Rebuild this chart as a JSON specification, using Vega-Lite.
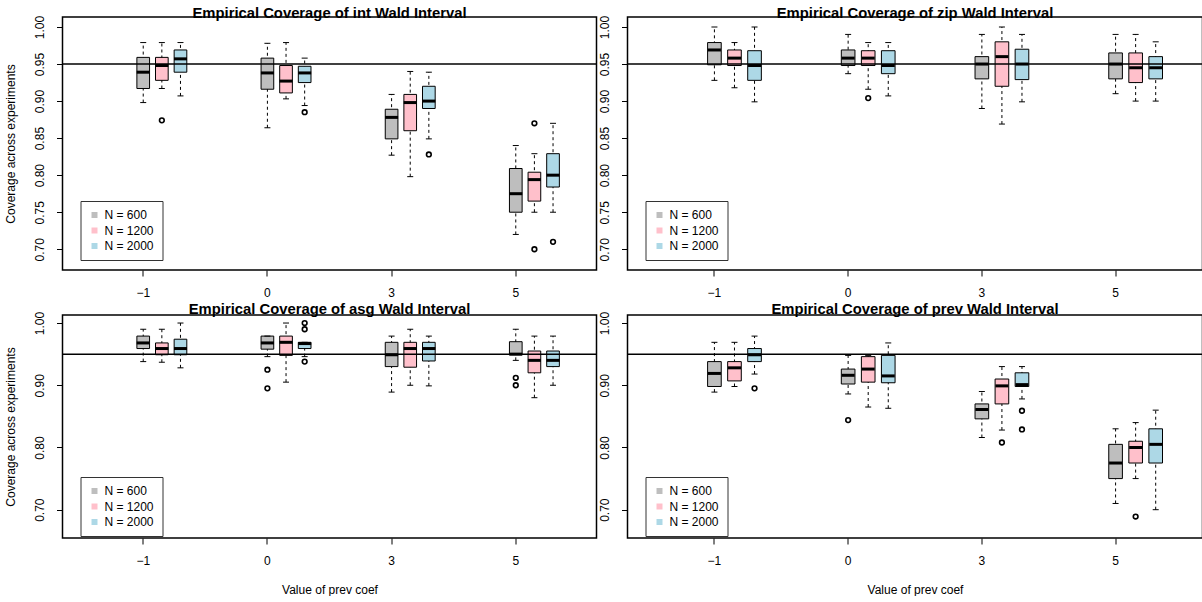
{
  "$schema": "https://vega.github.io/schema/vega-lite/v6.json",
  "padding": {"left": 3.5, "top": 4, "right": 0, "bottom": 0},
  "background": "white",
  "datasets": {
    "stats": [
      {"panel": "int", "coef": -1, "N": "600", "lo": 0.898, "q1": 0.917, "med": 0.939, "q3": 0.959, "hi": 0.979},
      {"panel": "int", "coef": -1, "N": "1200", "lo": 0.917, "q1": 0.928, "med": 0.948, "q3": 0.959, "hi": 0.979},
      {"panel": "int", "coef": -1, "N": "2000", "lo": 0.907, "q1": 0.939, "med": 0.957, "q3": 0.969, "hi": 0.979},
      {"panel": "int", "coef": 0, "N": "600", "lo": 0.864, "q1": 0.916, "med": 0.938, "q3": 0.958, "hi": 0.978},
      {"panel": "int", "coef": 0, "N": "1200", "lo": 0.903, "q1": 0.911, "med": 0.927, "q3": 0.948, "hi": 0.979},
      {"panel": "int", "coef": 0, "N": "2000", "lo": 0.894, "q1": 0.925, "med": 0.938, "q3": 0.947, "hi": 0.958},
      {"panel": "int", "coef": 3, "N": "600", "lo": 0.827, "q1": 0.849, "med": 0.878, "q3": 0.889, "hi": 0.909},
      {"panel": "int", "coef": 3, "N": "1200", "lo": 0.798, "q1": 0.86, "med": 0.898, "q3": 0.909, "hi": 0.94},
      {"panel": "int", "coef": 3, "N": "2000", "lo": 0.849, "q1": 0.89, "med": 0.9, "q3": 0.92, "hi": 0.939},
      {"panel": "int", "coef": 5, "N": "600", "lo": 0.72, "q1": 0.75, "med": 0.775, "q3": 0.809, "hi": 0.84},
      {"panel": "int", "coef": 5, "N": "1200", "lo": 0.75, "q1": 0.765, "med": 0.794, "q3": 0.804, "hi": 0.829},
      {"panel": "int", "coef": 5, "N": "2000", "lo": 0.75, "q1": 0.784, "med": 0.8, "q3": 0.829, "hi": 0.87},

      {"panel": "zip", "coef": -1, "N": "600", "lo": 0.928, "q1": 0.949, "med": 0.969, "q3": 0.979, "hi": 1.0},
      {"panel": "zip", "coef": -1, "N": "1200", "lo": 0.918, "q1": 0.948, "med": 0.958, "q3": 0.969, "hi": 0.979},
      {"panel": "zip", "coef": -1, "N": "2000", "lo": 0.899, "q1": 0.928, "med": 0.948, "q3": 0.968, "hi": 1.0},
      {"panel": "zip", "coef": 0, "N": "600", "lo": 0.937, "q1": 0.948, "med": 0.958, "q3": 0.969, "hi": 0.99},
      {"panel": "zip", "coef": 0, "N": "1200", "lo": 0.916, "q1": 0.948, "med": 0.958, "q3": 0.968, "hi": 0.979},
      {"panel": "zip", "coef": 0, "N": "2000", "lo": 0.907, "q1": 0.937, "med": 0.948, "q3": 0.968, "hi": 0.979},
      {"panel": "zip", "coef": 3, "N": "600", "lo": 0.89, "q1": 0.93, "med": 0.95, "q3": 0.96, "hi": 0.99},
      {"panel": "zip", "coef": 3, "N": "1200", "lo": 0.869, "q1": 0.92, "med": 0.96, "q3": 0.98, "hi": 1.0},
      {"panel": "zip", "coef": 3, "N": "2000", "lo": 0.899, "q1": 0.929, "med": 0.95, "q3": 0.97, "hi": 0.99},
      {"panel": "zip", "coef": 5, "N": "600", "lo": 0.91, "q1": 0.93, "med": 0.95, "q3": 0.965, "hi": 0.99},
      {"panel": "zip", "coef": 5, "N": "1200", "lo": 0.9, "q1": 0.925, "med": 0.945, "q3": 0.965, "hi": 0.99},
      {"panel": "zip", "coef": 5, "N": "2000", "lo": 0.9, "q1": 0.93, "med": 0.945, "q3": 0.96, "hi": 0.98},

      {"panel": "asg", "coef": -1, "N": "600", "lo": 0.938, "q1": 0.959, "med": 0.968, "q3": 0.979, "hi": 0.99},
      {"panel": "asg", "coef": -1, "N": "1200", "lo": 0.937, "q1": 0.949, "med": 0.959, "q3": 0.968, "hi": 0.99},
      {"panel": "asg", "coef": -1, "N": "2000", "lo": 0.928, "q1": 0.949, "med": 0.959, "q3": 0.974, "hi": 1.0},
      {"panel": "asg", "coef": 0, "N": "600", "lo": 0.946, "q1": 0.958, "med": 0.968, "q3": 0.979, "hi": 0.979},
      {"panel": "asg", "coef": 0, "N": "1200", "lo": 0.905, "q1": 0.948, "med": 0.969, "q3": 0.979, "hi": 1.0},
      {"panel": "asg", "coef": 0, "N": "2000", "lo": 0.946, "q1": 0.959, "med": 0.967, "q3": 0.969, "hi": 0.969},
      {"panel": "asg", "coef": 3, "N": "600", "lo": 0.889, "q1": 0.93, "med": 0.949, "q3": 0.969, "hi": 0.979},
      {"panel": "asg", "coef": 3, "N": "1200", "lo": 0.9, "q1": 0.929, "med": 0.959, "q3": 0.969, "hi": 0.99},
      {"panel": "asg", "coef": 3, "N": "2000", "lo": 0.899, "q1": 0.939, "med": 0.959, "q3": 0.969, "hi": 0.979},
      {"panel": "asg", "coef": 5, "N": "600", "lo": 0.94, "q1": 0.949, "med": 0.95, "q3": 0.97, "hi": 0.99},
      {"panel": "asg", "coef": 5, "N": "1200", "lo": 0.88, "q1": 0.92, "med": 0.94, "q3": 0.955, "hi": 0.979},
      {"panel": "asg", "coef": 5, "N": "2000", "lo": 0.9, "q1": 0.93, "med": 0.94, "q3": 0.955, "hi": 0.979},

      {"panel": "prev", "coef": -1, "N": "600", "lo": 0.889, "q1": 0.898, "med": 0.919, "q3": 0.938, "hi": 0.969},
      {"panel": "prev", "coef": -1, "N": "1200", "lo": 0.898, "q1": 0.907, "med": 0.928, "q3": 0.938, "hi": 0.969},
      {"panel": "prev", "coef": -1, "N": "2000", "lo": 0.918, "q1": 0.938, "med": 0.949, "q3": 0.959, "hi": 0.979},
      {"panel": "prev", "coef": 0, "N": "600", "lo": 0.886, "q1": 0.902, "med": 0.916, "q3": 0.926, "hi": 0.948},
      {"panel": "prev", "coef": 0, "N": "1200", "lo": 0.865, "q1": 0.905, "med": 0.926, "q3": 0.946, "hi": 0.948},
      {"panel": "prev", "coef": 0, "N": "2000", "lo": 0.863, "q1": 0.904, "med": 0.915, "q3": 0.948, "hi": 0.968},
      {"panel": "prev", "coef": 3, "N": "600", "lo": 0.816, "q1": 0.846, "med": 0.861, "q3": 0.87, "hi": 0.89},
      {"panel": "prev", "coef": 3, "N": "1200", "lo": 0.828, "q1": 0.87, "med": 0.899, "q3": 0.91, "hi": 0.93},
      {"panel": "prev", "coef": 3, "N": "2000", "lo": 0.878, "q1": 0.898, "med": 0.901, "q3": 0.92, "hi": 0.93},
      {"panel": "prev", "coef": 5, "N": "600", "lo": 0.71, "q1": 0.75, "med": 0.775, "q3": 0.805, "hi": 0.83},
      {"panel": "prev", "coef": 5, "N": "1200", "lo": 0.75, "q1": 0.775, "med": 0.8, "q3": 0.81, "hi": 0.84},
      {"panel": "prev", "coef": 5, "N": "2000", "lo": 0.7, "q1": 0.775, "med": 0.805, "q3": 0.83, "hi": 0.86}
    ],
    "outliers": [
      {"panel": "int", "coef": -1, "N": "1200", "v": 0.874},
      {"panel": "int", "coef": 0, "N": "2000", "v": 0.885},
      {"panel": "int", "coef": 3, "N": "2000", "v": 0.828},
      {"panel": "int", "coef": 5, "N": "1200", "v": 0.87},
      {"panel": "int", "coef": 5, "N": "1200", "v": 0.7},
      {"panel": "int", "coef": 5, "N": "2000", "v": 0.71},
      {"panel": "zip", "coef": 0, "N": "1200", "v": 0.904},
      {"panel": "asg", "coef": 0, "N": "600", "v": 0.925},
      {"panel": "asg", "coef": 0, "N": "600", "v": 0.895},
      {"panel": "asg", "coef": 0, "N": "2000", "v": 1.0},
      {"panel": "asg", "coef": 0, "N": "2000", "v": 0.99},
      {"panel": "asg", "coef": 0, "N": "2000", "v": 0.938},
      {"panel": "asg", "coef": 5, "N": "600", "v": 0.912},
      {"panel": "asg", "coef": 5, "N": "600", "v": 0.9},
      {"panel": "prev", "coef": -1, "N": "2000", "v": 0.895},
      {"panel": "prev", "coef": 0, "N": "600", "v": 0.844},
      {"panel": "prev", "coef": 3, "N": "1200", "v": 0.808},
      {"panel": "prev", "coef": 3, "N": "2000", "v": 0.859},
      {"panel": "prev", "coef": 3, "N": "2000", "v": 0.829},
      {"panel": "prev", "coef": 5, "N": "1200", "v": 0.689}
    ]
  },
  "columns": 2,
  "spacing": {"row": 45, "column": 31},
  "bounds": "flush",
  "resolve": {
    "scale": {"color": "independent", "x": "independent", "y": "independent", "xOffset": "independent"},
    "legend": {"color": "independent"},
    "axis": {"x": "independent", "y": "independent"}
  },
  "concat": [
    {
      "width": 534, "height": 253,
      "title": "Empirical Coverage of int Wald Interval",
      "data": {"name": "stats"},
      "transform": [{"filter": "datum.panel === 'int'"}],
      "layer": [
        {"mark": {"type": "rule", "color": "black", "strokeWidth": 1, "strokeDash": [3, 3]},
         "encoding": {
           "x": {"field": "coef", "type": "nominal", "scale": {"domain": [-1, 0, 3, 5], "paddingInner": 0, "paddingOuter": 0.15}, "axis": {"title": null, "labelExpr": "datum.value < 0 ? '\u2212' + abs(datum.value) : datum.label"}},
           "xOffset": {"field": "N", "type": "nominal", "scale": {"domain": ["a", "b", "600", "1200", "2000"], "paddingInner": 0.32, "paddingOuter": 0.9935}},
           "y": {"field": "lo", "type": "quantitative", "scale": {"domain": [0.672, 1.0135], "nice": false, "zero": false}, "axis": {"title": "Coverage across experiments", "values": [0.7, 0.75, 0.8, 0.85, 0.9, 0.95, 1.0], "format": ".2f"}},
           "y2": {"field": "hi"}
         }},
        {"mark": {"type": "bar", "stroke": "black", "strokeWidth": 1},
         "encoding": {
           "x": {"field": "coef", "type": "nominal"},
           "xOffset": {"field": "N", "type": "nominal"},
           "y": {"field": "q1", "type": "quantitative"},
           "y2": {"field": "q3"},
           "color": {"field": "N", "type": "nominal", "scale": {"domain": ["600", "1200", "2000"], "range": ["#BEBEBE", "#FFC0CB", "#ADD8E6"]}, "legend": {"legendX": 18, "legendY": 184, "labelExpr": "'N = ' + datum.label"}}
         }},
        {"mark": {"type": "tick", "color": "black", "thickness": 3, "size": 13, "opacity": 1},
         "encoding": {"x": {"field": "coef", "type": "nominal"}, "xOffset": {"field": "N", "type": "nominal"}, "y": {"field": "med", "type": "quantitative"}}},
        {"mark": {"type": "tick", "color": "black", "thickness": 1, "size": 6, "opacity": 1},
         "encoding": {"x": {"field": "coef", "type": "nominal"}, "xOffset": {"field": "N", "type": "nominal"}, "y": {"field": "lo", "type": "quantitative"}}},
        {"mark": {"type": "tick", "color": "black", "thickness": 1, "size": 6, "opacity": 1},
         "encoding": {"x": {"field": "coef", "type": "nominal"}, "xOffset": {"field": "N", "type": "nominal"}, "y": {"field": "hi", "type": "quantitative"}}},
        {"data": {"name": "outliers"}, "transform": [{"filter": "datum.panel === 'int'"}],
         "mark": {"type": "point", "shape": "circle", "filled": false, "color": "black", "strokeWidth": 1.6, "size": 22, "opacity": 1},
         "encoding": {"x": {"field": "coef", "type": "nominal"}, "xOffset": {"field": "N", "type": "nominal"}, "y": {"field": "v", "type": "quantitative"}}},
        {"transform": [{"aggregate": [{"op": "count", "as": "n"}]}],
         "mark": {"type": "rule", "color": "black", "strokeWidth": 1.5},
         "encoding": {"y": {"datum": 0.95, "type": "quantitative"}}}
      ]
    },
    {
      "width": 575, "height": 253,
      "title": "Empirical Coverage of zip Wald Interval",
      "data": {"name": "stats"},
      "transform": [{"filter": "datum.panel === 'zip'"}],
      "layer": [
        {"mark": {"type": "rule", "color": "black", "strokeWidth": 1, "strokeDash": [3, 3]},
         "encoding": {
           "x": {"field": "coef", "type": "nominal", "scale": {"domain": [-1, 0, 3, 5], "paddingInner": 0, "paddingOuter": 0.15}, "axis": {"title": null, "labelExpr": "datum.value < 0 ? '\u2212' + abs(datum.value) : datum.label"}},
           "xOffset": {"field": "N", "type": "nominal", "scale": {"domain": ["a", "b", "600", "1200", "2000"], "paddingInner": 0.32, "paddingOuter": 0.9935}},
           "y": {"field": "lo", "type": "quantitative", "scale": {"domain": [0.672, 1.0135], "nice": false, "zero": false}, "axis": {"title": null, "values": [0.7, 0.75, 0.8, 0.85, 0.9, 0.95, 1.0], "format": ".2f"}},
           "y2": {"field": "hi"}
         }},
        {"mark": {"type": "bar", "stroke": "black", "strokeWidth": 1},
         "encoding": {
           "x": {"field": "coef", "type": "nominal"},
           "xOffset": {"field": "N", "type": "nominal"},
           "y": {"field": "q1", "type": "quantitative"},
           "y2": {"field": "q3"},
           "color": {"field": "N", "type": "nominal", "scale": {"domain": ["600", "1200", "2000"], "range": ["#BEBEBE", "#FFC0CB", "#ADD8E6"]}, "legend": {"legendX": 18, "legendY": 184, "labelExpr": "'N = ' + datum.label"}}
         }},
        {"mark": {"type": "tick", "color": "black", "thickness": 3, "size": 13, "opacity": 1},
         "encoding": {"x": {"field": "coef", "type": "nominal"}, "xOffset": {"field": "N", "type": "nominal"}, "y": {"field": "med", "type": "quantitative"}}},
        {"mark": {"type": "tick", "color": "black", "thickness": 1, "size": 6, "opacity": 1},
         "encoding": {"x": {"field": "coef", "type": "nominal"}, "xOffset": {"field": "N", "type": "nominal"}, "y": {"field": "lo", "type": "quantitative"}}},
        {"mark": {"type": "tick", "color": "black", "thickness": 1, "size": 6, "opacity": 1},
         "encoding": {"x": {"field": "coef", "type": "nominal"}, "xOffset": {"field": "N", "type": "nominal"}, "y": {"field": "hi", "type": "quantitative"}}},
        {"data": {"name": "outliers"}, "transform": [{"filter": "datum.panel === 'zip'"}],
         "mark": {"type": "point", "shape": "circle", "filled": false, "color": "black", "strokeWidth": 1.6, "size": 22, "opacity": 1},
         "encoding": {"x": {"field": "coef", "type": "nominal"}, "xOffset": {"field": "N", "type": "nominal"}, "y": {"field": "v", "type": "quantitative"}}},
        {"transform": [{"aggregate": [{"op": "count", "as": "n"}]}],
         "mark": {"type": "rule", "color": "black", "strokeWidth": 1.5},
         "encoding": {"y": {"datum": 0.95, "type": "quantitative"}}}
      ]
    },
    {
      "width": 534, "height": 223,
      "title": "Empirical Coverage of asg Wald Interval",
      "data": {"name": "stats"},
      "transform": [{"filter": "datum.panel === 'asg'"}],
      "layer": [
        {"mark": {"type": "rule", "color": "black", "strokeWidth": 1, "strokeDash": [3, 3]},
         "encoding": {
           "x": {"field": "coef", "type": "nominal", "scale": {"domain": [-1, 0, 3, 5], "paddingInner": 0, "paddingOuter": 0.15}, "axis": {"title": "Value of prev coef", "labelExpr": "datum.value < 0 ? '\u2212' + abs(datum.value) : datum.label"}},
           "xOffset": {"field": "N", "type": "nominal", "scale": {"domain": ["a", "b", "600", "1200", "2000"], "paddingInner": 0.32, "paddingOuter": 0.9935}},
           "y": {"field": "lo", "type": "quantitative", "scale": {"domain": [0.6545, 1.0129], "nice": false, "zero": false}, "axis": {"title": "Coverage across experiments", "values": [0.7, 0.75, 0.8, 0.85, 0.9, 0.95, 1.0], "format": ".2f", "labelExpr": "round(datum.value * 100) % 10 == 0 ? datum.label : ''"}},
           "y2": {"field": "hi"}
         }},
        {"mark": {"type": "bar", "stroke": "black", "strokeWidth": 1},
         "encoding": {
           "x": {"field": "coef", "type": "nominal"},
           "xOffset": {"field": "N", "type": "nominal"},
           "y": {"field": "q1", "type": "quantitative"},
           "y2": {"field": "q3"},
           "color": {"field": "N", "type": "nominal", "scale": {"domain": ["600", "1200", "2000"], "range": ["#BEBEBE", "#FFC0CB", "#ADD8E6"]}, "legend": {"legendX": 18, "legendY": 162, "labelExpr": "'N = ' + datum.label"}}
         }},
        {"mark": {"type": "tick", "color": "black", "thickness": 3, "size": 13, "opacity": 1},
         "encoding": {"x": {"field": "coef", "type": "nominal"}, "xOffset": {"field": "N", "type": "nominal"}, "y": {"field": "med", "type": "quantitative"}}},
        {"mark": {"type": "tick", "color": "black", "thickness": 1, "size": 6, "opacity": 1},
         "encoding": {"x": {"field": "coef", "type": "nominal"}, "xOffset": {"field": "N", "type": "nominal"}, "y": {"field": "lo", "type": "quantitative"}}},
        {"mark": {"type": "tick", "color": "black", "thickness": 1, "size": 6, "opacity": 1},
         "encoding": {"x": {"field": "coef", "type": "nominal"}, "xOffset": {"field": "N", "type": "nominal"}, "y": {"field": "hi", "type": "quantitative"}}},
        {"data": {"name": "outliers"}, "transform": [{"filter": "datum.panel === 'asg'"}],
         "mark": {"type": "point", "shape": "circle", "filled": false, "color": "black", "strokeWidth": 1.6, "size": 22, "opacity": 1},
         "encoding": {"x": {"field": "coef", "type": "nominal"}, "xOffset": {"field": "N", "type": "nominal"}, "y": {"field": "v", "type": "quantitative"}}},
        {"transform": [{"aggregate": [{"op": "count", "as": "n"}]}],
         "mark": {"type": "rule", "color": "black", "strokeWidth": 1.5},
         "encoding": {"y": {"datum": 0.95, "type": "quantitative"}}}
      ]
    },
    {
      "width": 575, "height": 223,
      "title": "Empirical Coverage of prev Wald Interval",
      "data": {"name": "stats"},
      "transform": [{"filter": "datum.panel === 'prev'"}],
      "layer": [
        {"mark": {"type": "rule", "color": "black", "strokeWidth": 1, "strokeDash": [3, 3]},
         "encoding": {
           "x": {"field": "coef", "type": "nominal", "scale": {"domain": [-1, 0, 3, 5], "paddingInner": 0, "paddingOuter": 0.15}, "axis": {"title": "Value of prev coef", "labelExpr": "datum.value < 0 ? '\u2212' + abs(datum.value) : datum.label"}},
           "xOffset": {"field": "N", "type": "nominal", "scale": {"domain": ["a", "b", "600", "1200", "2000"], "paddingInner": 0.32, "paddingOuter": 0.9935}},
           "y": {"field": "lo", "type": "quantitative", "scale": {"domain": [0.6545, 1.0129], "nice": false, "zero": false}, "axis": {"title": null, "values": [0.7, 0.75, 0.8, 0.85, 0.9, 0.95, 1.0], "format": ".2f", "labelExpr": "round(datum.value * 100) % 10 == 0 ? datum.label : ''"}},
           "y2": {"field": "hi"}
         }},
        {"mark": {"type": "bar", "stroke": "black", "strokeWidth": 1},
         "encoding": {
           "x": {"field": "coef", "type": "nominal"},
           "xOffset": {"field": "N", "type": "nominal"},
           "y": {"field": "q1", "type": "quantitative"},
           "y2": {"field": "q3"},
           "color": {"field": "N", "type": "nominal", "scale": {"domain": ["600", "1200", "2000"], "range": ["#BEBEBE", "#FFC0CB", "#ADD8E6"]}, "legend": {"legendX": 18, "legendY": 162, "labelExpr": "'N = ' + datum.label"}}
         }},
        {"mark": {"type": "tick", "color": "black", "thickness": 3, "size": 13, "opacity": 1},
         "encoding": {"x": {"field": "coef", "type": "nominal"}, "xOffset": {"field": "N", "type": "nominal"}, "y": {"field": "med", "type": "quantitative"}}},
        {"mark": {"type": "tick", "color": "black", "thickness": 1, "size": 6, "opacity": 1},
         "encoding": {"x": {"field": "coef", "type": "nominal"}, "xOffset": {"field": "N", "type": "nominal"}, "y": {"field": "lo", "type": "quantitative"}}},
        {"mark": {"type": "tick", "color": "black", "thickness": 1, "size": 6, "opacity": 1},
         "encoding": {"x": {"field": "coef", "type": "nominal"}, "xOffset": {"field": "N", "type": "nominal"}, "y": {"field": "hi", "type": "quantitative"}}},
        {"data": {"name": "outliers"}, "transform": [{"filter": "datum.panel === 'prev'"}],
         "mark": {"type": "point", "shape": "circle", "filled": false, "color": "black", "strokeWidth": 1.6, "size": 22, "opacity": 1},
         "encoding": {"x": {"field": "coef", "type": "nominal"}, "xOffset": {"field": "N", "type": "nominal"}, "y": {"field": "v", "type": "quantitative"}}},
        {"transform": [{"aggregate": [{"op": "count", "as": "n"}]}],
         "mark": {"type": "rule", "color": "black", "strokeWidth": 1.5},
         "encoding": {"y": {"datum": 0.95, "type": "quantitative"}}}
      ]
    }
  ],
  "config": {
    "font": "Liberation Sans",
    "view": {"stroke": "black", "strokeWidth": 1.5},
    "title": {"fontSize": 14.8, "fontWeight": "bold", "color": "black", "anchor": "middle", "offset": -5, "baseline": "alphabetic", "frame": "group"},
    "axis": {
      "domain": false, "grid": false, "tickColor": "black", "tickSize": 6, "tickWidth": 1,
      "labelFontSize": 12, "labelColor": "black", "labelOverlap": false, "labelFlush": false, "labelBound": false,
      "titleFontSize": 12, "titleFontWeight": "normal", "titleColor": "black"
    },
    "axisX": {"labelPadding": 11, "labelAngle": 0, "titlePadding": 18},
    "axisY": {"labelPadding": 13, "labelAngle": -90, "labelAlign": "center", "labelBaseline": "alphabetic", "titlePadding": 16},
    "legend": {
      "orient": "none", "title": null, "symbolType": "square", "symbolSize": 36, "symbolStrokeWidth": 0,
      "labelFontSize": 12, "labelColor": "black", "labelOffset": 4, "rowPadding": 3.5, "padding": 8,
      "strokeColor": "#333333", "fillColor": "white", "cornerRadius": 0, "strokeWidth": 1, "symbolOpacity": 1
    }
  }
}
